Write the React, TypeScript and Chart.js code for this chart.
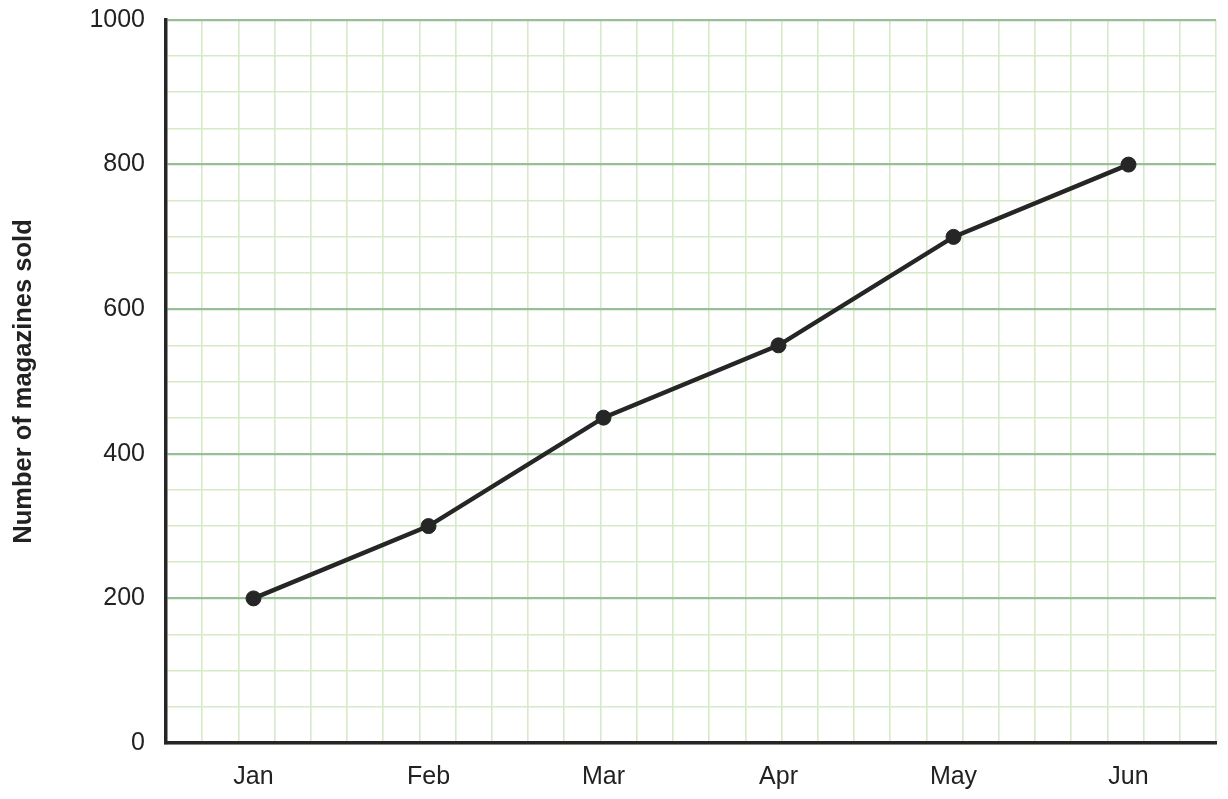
import React, { useEffect, useRef } from "react";
import { Chart, registerables } from "chart.js";

Chart.register(...registerables);

const months = ["Jan", "Feb", "Mar", "Apr", "May", "Jun"];
const magazinesSold = [200, 300, 450, 550, 700, 800];
const yMin = 0;
const yMax = 1000;
const yMinorStep = 50;
const yLabelStep = 200;
const gridColumns = 29;

const FONT = "'Liberation Sans', Arial, Helvetica, sans-serif";
const MINOR = "#d6e9c8";
const MAJOR = "#98c098";
const INK = "#262626";

export default function App() {
  const ref = useRef<HTMLCanvasElement | null>(null);

  useEffect(() => {
    if (!ref.current) return;
    const chart = new Chart(ref.current, {
      type: "line",
      data: {
        labels: months,
        datasets: [
          {
            data: magazinesSold,
            borderColor: INK,
            backgroundColor: INK,
            borderWidth: 4.5,
            pointRadius: 7.5,
            pointBackgroundColor: INK,
            pointBorderColor: INK,
            pointBorderWidth: 1,
            tension: 0,
            xAxisID: "x",
            yAxisID: "y",
          },
        ],
      },
      options: {
        responsive: false,
        animation: false,
        layout: { padding: { top: 20, right: 12, left: 0, bottom: 0 } },
        plugins: { legend: { display: false }, tooltip: { enabled: false } },
        scales: {
          x2: {
            type: "linear",
            position: "top",
            display: true,
            min: 0,
            max: gridColumns,
            afterFit: (s: any) => {
              s.height = 0;
              s.paddingLeft = 0;
              s.paddingRight = 0;
              s.paddingTop = 0;
              s.paddingBottom = 0;
            },
            ticks: { display: false, stepSize: 1, padding: 0 },
            grid: { color: MINOR, lineWidth: 1.6, drawTicks: false },
            border: { display: false },
          },
          y: {
            type: "linear",
            min: yMin,
            max: yMax,
            afterFit: (s: any) => {
              s.width = 166;
              s.paddingTop = 0;
              s.paddingBottom = 0;
            },
            ticks: {
              stepSize: yMinorStep,
              autoSkip: false,
              padding: 21,
              color: "#222",
              font: { family: FONT, size: 25 },
              callback: (v: any) => (Number(v) % yLabelStep === 0 ? String(v) : ""),
            },
            grid: {
              drawTicks: false,
              color: (ctx: any) =>
                ctx.tick && ctx.tick.value % yLabelStep === 0 ? MAJOR : MINOR,
              lineWidth: (ctx: any) =>
                ctx.tick && ctx.tick.value % yLabelStep === 0 ? 2.2 : 1.6,
            },
            border: { display: true, color: INK, width: 3.5 },
            title: {
              display: true,
              text: "Number of magazines sold",
              color: "#222",
              font: { family: FONT, size: 25.5, weight: "bold" },
              padding: { top: 9, bottom: 0 },
            },
          },
          x: {
            type: "category",
            offset: true,
            afterFit: (s: any) => {
              s.height = 56;
              s.paddingLeft = 0;
              s.paddingRight = 0;
            },
            ticks: {
              padding: 19,
              color: "#222",
              font: { family: FONT, size: 25 },
            },
            grid: { display: false, drawTicks: false },
            border: { display: true, color: INK, width: 3.5 },
          },
        },
      } as any,
    });
    return () => chart.destroy();
  }, []);

  return (
    <div style={{ position: "fixed", left: 0, top: 0, width: 1228, height: 799, background: "#fff" }}>
      <canvas ref={ref} width={1228} height={799} style={{ display: "block" }} />
    </div>
  );
}
